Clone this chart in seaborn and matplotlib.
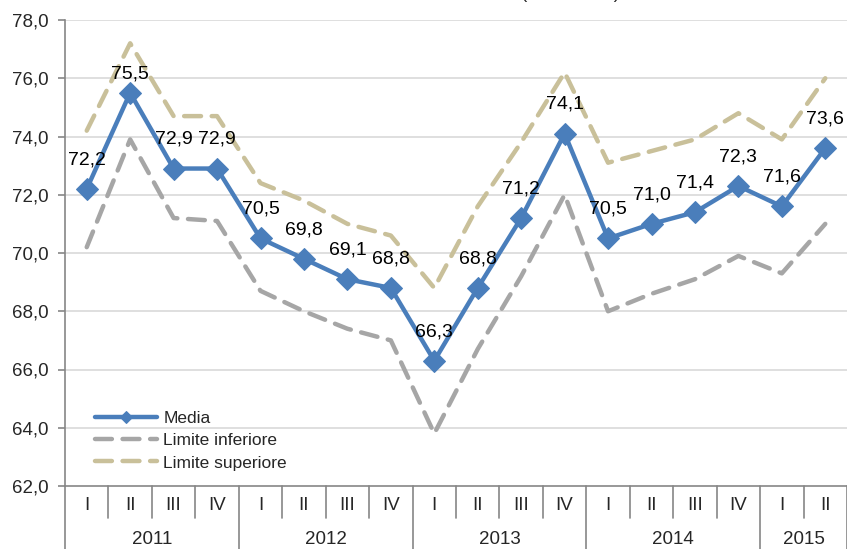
import numpy as np
import pandas as pd
import matplotlib
matplotlib.use("Agg")
import matplotlib.pyplot as plt
import matplotlib.transforms as mtransforms
import seaborn as sns

# ---- data ----
quarters = ["I", "II", "III", "IV", "I", "II", "III", "IV", "I", "II", "III", "IV",
            "I", "II", "III", "IV", "I", "II"]
years = ["2011", "2012", "2013", "2014", "2015"]
year_counts = [4, 4, 4, 4, 2]
media = [72.2, 75.5, 72.9, 72.9, 70.5, 69.8, 69.1, 68.8, 66.3, 68.8, 71.2, 74.1,
         70.5, 71.0, 71.4, 72.3, 71.6, 73.6]
limite_inferiore = [70.2, 73.9, 71.2, 71.1, 68.7, 68.0, 67.4, 67.0, 63.8, 66.7, 69.2, 72.0,
                    68.0, 68.6, 69.1, 69.9, 69.3, 71.0]
limite_superiore = [74.2, 77.2, 74.7, 74.7, 72.4, 71.8, 71.0, 70.6, 68.8, 71.6, 73.8, 76.2,
                    73.1, 73.5, 73.9, 74.8, 73.9, 76.0]
series_names = ["Media", "Limite inferiore", "Limite superiore"]
yticks = [62, 64, 66, 68, 70, 72, 74, 76, 78]

sns.set_style("white")
plt.rcParams["font.family"] = ["Liberation Sans", "DejaVu Sans"]

pos = np.arange(len(quarters))
df = pd.DataFrame({
    "pos": np.tile(pos, 3),
    "value": media + limite_inferiore + limite_superiore,
    "serie": np.repeat(series_names, len(pos)),
})

fig = plt.figure(figsize=(8.47, 5.49), dpi=100)
ax = fig.add_axes([65 / 847, 1 - 486 / 549, 782 / 847, 466 / 549])

blue = "#4a7ebb"
grey = "#a6a6a6"
tan = "#c9c09a"

# gridlines
for t in yticks[1:]:
    ax.axhline(t, color="#d9d9d9", lw=1.2, zorder=0)

sns.lineplot(data=df[df.serie == "Limite inferiore"], x="pos", y="value", ax=ax,
             color=grey, lw=3.2, label="Limite inferiore", zorder=2)
sns.lineplot(data=df[df.serie == "Limite superiore"], x="pos", y="value", ax=ax,
             color=tan, lw=3.2, label="Limite superiore", zorder=2)
sns.lineplot(data=df[df.serie == "Media"], x="pos", y="value", ax=ax,
             color=blue, lw=3.2, marker="D", markersize=11, markeredgecolor=blue,
             label="Media", zorder=3)

for ln in ax.get_lines():
    if ln.get_color() in (grey, tan):
        ln.set_dashes((3.8, 2.4))
        ln.set_dash_capstyle("round")

# data labels
for i, v in enumerate(media):
    dy = 13.7 if i == 1 else 21
    ax.annotate(f"{v:.1f}".replace(".", ","), (i, v), xytext=(0, dy),
                textcoords="offset points", ha="center", va="center",
                fontsize=14, color="black", zorder=5)

ax.set_xlim(-0.5, len(quarters) - 0.5)
ax.set_ylim(62, 78)
ax.set_yticks(yticks)
ax.set_yticklabels([f"{t:.1f}".replace(".", ",") for t in yticks], fontsize=13.5)
ax.tick_params(axis="y", direction="out", length=5, width=1.2, color="#868686", pad=7, left=True)
ax.set_xticks([])
ax.set_xlabel("")
ax.set_ylabel("")
for s in ["top", "right"]:
    ax.spines[s].set_visible(False)
ax.spines["left"].set_color("#868686")
ax.spines["left"].set_linewidth(1.2)
ax.spines["bottom"].set_color("#868686")
ax.spines["bottom"].set_linewidth(1.2)

# multi-level category axis
trans = mtransforms.blended_transform_factory(ax.transData, ax.transAxes)
for i, q in enumerate(quarters):
    ax.text(i, -20 / 466, q, transform=trans, ha="center", va="center",
            fontsize=13.5, clip_on=False)
year_bounds = np.cumsum([0] + year_counts) - 0.5
for b in range(1, len(quarters)):
    if (b - 0.5) not in year_bounds:
        ax.plot([b - 0.5, b - 0.5], [0, -32 / 466], transform=trans, color="#868686",
                lw=1.2, clip_on=False)
for b in year_bounds:
    ax.plot([b, b], [0, -70 / 466], transform=trans, color="#868686", lw=1.2, clip_on=False)
for k, y in enumerate(years):
    c = (year_bounds[k] + year_bounds[k + 1]) / 2
    ax.text(c, -58.5 / 466, y, transform=trans, ha="center", va="baseline",
            fontsize=13.5, clip_on=False)

# legend
handles, labels = ax.get_legend_handles_labels()
order = [labels.index(n) for n in series_names]
leg = ax.legend([handles[k] for k in order], [labels[k] for k in order],
                loc="upper left", bbox_to_anchor=(0.038, 0.162), frameon=False,
                fontsize=12.5, handlelength=3.6, handletextpad=0.35, labelspacing=0.42,
                borderpad=0, borderaxespad=0)
for h in leg.legend_handles:
    h.set_linewidth(3.2)
    h.set_markersize(6)

# partially visible title above the canvas (only the bottom tips of the parentheses show)
fig.text(570 / 847, 1.0 + 2.5 / 549, "(valori in %)", ha="center", va="baseline", fontsize=13.5)

fig.savefig("out.png", dpi=100)
